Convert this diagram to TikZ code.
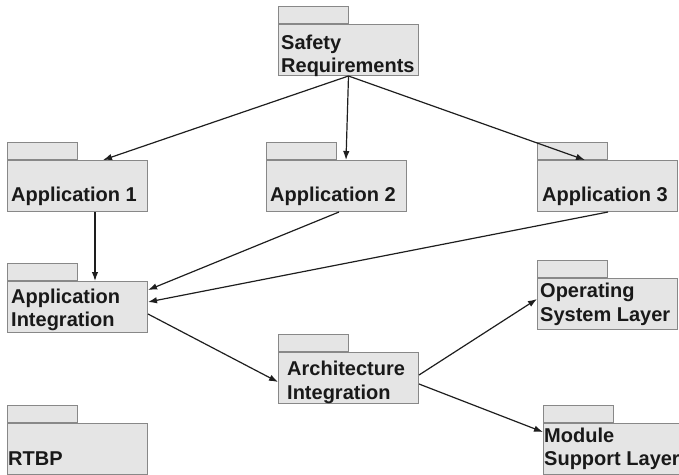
\documentclass[tikz,border=0pt]{standalone}
\usepackage{fontspec}
\setmainfont{Liberation Sans}
\usetikzlibrary{arrows.meta,calc}
\definecolor{pkgfill}{HTML}{E5E5E5}
\definecolor{pkgline}{HTML}{888888}
\definecolor{linkcol}{HTML}{1E1E1E}
\tikzset{
  pkgbody/.style={draw=pkgline, fill=pkgfill, line width=1pt, inner sep=0pt,
    minimum width=140pt, minimum height=51pt, anchor=north west},
  pkgtab/.style={draw=pkgline, fill=pkgfill, line width=1pt, inner sep=0pt,
    minimum width=70pt, minimum height=17pt, anchor=south west},
  lbl/.style={anchor=base west, inner sep=0pt, text=black!90,
    font=\bfseries\fontsize{20}{23}\selectfont},
  link/.style={draw=linkcol, line width=1.2pt, -{Latex[length=9pt,width=6.5pt]}}
}
% package symbol: tab on top of a body; #1 name, #2 top-left corner of the body
\newcommand{\umlpkg}[2]{%
  \node[pkgtab] (#1tab) at (#2) {};
  \node[pkgbody] (#1) at (#2) {};
}
\begin{document}
\begin{tikzpicture}[x=1pt, y=-1pt]
\useasboundingbox (0,0) rectangle (679,474);
\clip (0,0) rectangle (679,474);

% packages
\umlpkg{saf}{278,24}
\umlpkg{appA}{7,160}
\umlpkg{appB}{266,160}
\umlpkg{appC}{537,160}
\umlpkg{aint}{7,281}
\umlpkg{arch}{278,352}
\umlpkg{os}{537,278}
\umlpkg{mod}{543,423}
\umlpkg{rtbp}{7,423}

% package names
\node[lbl] (safT1) at (281,49) {Safety};
\node[lbl] (safT2) at (281,72) {Requirements};
\node[lbl] (appAT) at (11,201) {Application 1};
\node[lbl] (appBT) at (270,201) {Application 2};
\node[lbl] (appCT) at (542,201) {Application 3};
\node[lbl] (aintT1) at (11,303) {Application};
\node[lbl] (aintT2) at (11,326) {Integration};
\node[lbl] (archT1) at (287,375) {Architecture};
\node[lbl] (archT2) at (287,399) {Integration};
\node[lbl] (osT1) at (540,297) {Operating};
\node[lbl] (osT2) at (540,321) {System Layer};
\node[lbl] (modT1) at (544,442) {Module};
\node[lbl] (modT2) at (544,465) {Support Layer};
\node[lbl] (rtbpT) at (8,465) {RTBP};

% dependencies
\draw[link] (saf.south) -- ($(appA.north west)+(96,0)$);
\draw[link] (saf.south) -- ($(appB.north west)+(80,0)$);
\draw[link] (saf.south) -- ($(appC.north west)+(48,0)$);
\draw[link] ($(appA.south west)+(88,0)$) -- ($(aint.north west)+(88,0)$);
\draw[link] ($(appB.south west)+(73,0)$) -- ($(aint.north east)+(0,9)$);
\draw[link] ($(appC.south west)+(71,0)$) -- ($(aint.north east)+(0,21)$);
\draw[link] ($(aint.north east)+(0,33)$) -- ($(arch.north west)+(0,30)$);
\draw[link] ($(arch.north east)+(0,23)$) -- ($(os.north west)+(0,21)$);
\draw[link] ($(arch.north east)+(0,32)$) -- ($(mod.north west)+(0,9)$);
\end{tikzpicture}
\end{document}
